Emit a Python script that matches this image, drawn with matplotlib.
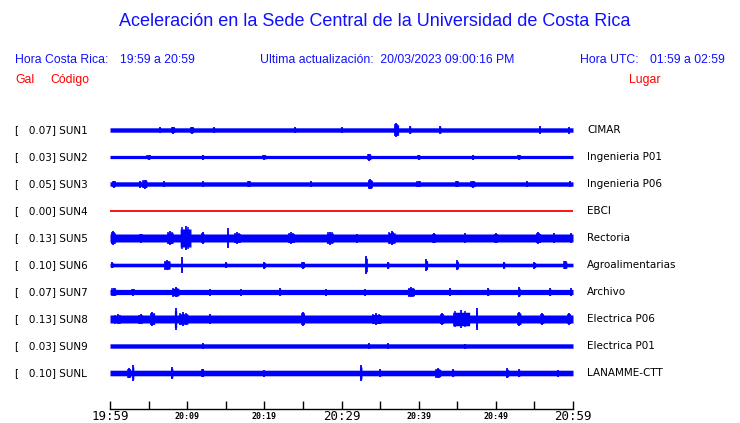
import numpy as np
import matplotlib
matplotlib.use("Agg")
import matplotlib.pyplot as plt

# station codes, peak values (Gal) and places
codes = ["SUN1", "SUN2", "SUN3", "SUN4", "SUN5", "SUN6", "SUN7", "SUN8", "SUN9", "SUNL"]
gal = [0.07, 0.03, 0.05, 0.00, 0.13, 0.10, 0.07, 0.13, 0.03, 0.10]
places = ["CIMAR", "Ingenieria P01", "Ingenieria P06", "EBCI", "Rectoria",
          "Agroalimentarias", "Archivo", "Electrica P06", "Electrica P01", "LANAMME-CTT"]

# background half-amplitude of each trace (px)
base_amp = [2.2, 1.6, 2.2, 0.0, 4.0, 1.8, 2.6, 4.0, 2.2, 2.8]

# bursts: (minute after 19:59, half-amplitude px, duration min)
bursts = [
    [(6.5, 3, 0.3), (8.2, 3.5, 0.4), (10.6, 3.5, 0.5), (13.5, 3, 0.3), (24, 3, 0.3),
     (30, 3, 0.3), (37.1, 7, 0.6), (38.9, 4, 0.2), (42.8, 4, 0.2), (55.7, 4, 0.1),
     (59.5, 3.5, 0.1)],
    [(5, 2.5, 0.5), (12, 2.5, 0.3), (20, 2.5, 0.5), (33.6, 3.5, 0.4), (40, 2.5, 0.4),
     (47, 2.5, 0.3), (53, 2.5, 0.4)],
    [(0.5, 3.5, 0.4), (3.9, 3.5, 0.3), (4.5, 4.5, 0.6), (7, 3, 0.3), (12, 3, 0.3),
     (18, 3, 0.4), (26, 3, 0.2), (33.7, 5, 0.6), (40, 3, 0.5), (45, 3, 0.5),
     (47, 3.5, 0.6), (54, 3, 0.3), (59.6, 3, 0.2)],
    [],
    [(0.4, 7, 0.6), (4, 4.5, 0.4), (7.8, 7, 0.8), (9.8, 12, 1.4), (12, 6, 0.4),
     (15.3, 10, 0.1), (16.5, 6, 0.8), (23.5, 6, 0.8), (28.5, 6.5, 0.9), (32, 4.5, 0.3),
     (36.5, 7, 0.9), (42, 5, 0.4), (46, 5, 0.3), (50, 5, 0.5), (55.5, 6, 0.6),
     (57.5, 5, 0.3), (59.7, 5, 0.3)],
    [(0.3, 3, 0.3), (7.4, 5, 0.8), (9.3, 8, 0.1), (15, 3, 0.3), (20, 3.5, 0.3),
     (25, 3.5, 0.4), (33.2, 9, 0.3), (36, 3.5, 0.3), (41, 6, 0.3), (45, 5, 0.3),
     (51, 3.5, 0.3), (55, 3.5, 0.3), (59, 4, 0.4)],
    [(0.5, 4, 0.6), (3, 3.5, 0.5), (8.5, 5, 0.9), (13, 3.5, 0.3), (17, 3.5, 0.3),
     (22, 4, 0.3), (28, 3.5, 0.3), (33, 3.5, 0.3), (39, 5, 0.9), (44, 4, 0.3),
     (49, 4, 0.3), (53, 5, 0.3), (57, 4, 0.3), (59.7, 4, 0.2)],
    [(1, 5, 1.0), (4, 5, 0.6), (5.5, 7, 0.6), (8.5, 11, 0.3), (9.5, 7, 1.2),
     (13, 5, 0.3), (25, 7, 0.4), (34.5, 6, 1.2), (43, 6, 0.5), (45.5, 9, 2.2),
     (47.5, 11, 0.2), (53, 7, 0.5), (56, 6, 0.4), (59.5, 6, 0.4)],
    [(12, 3, 0.2), (33.5, 3, 0.3), (36, 3, 0.1), (46, 2.5, 0.2)],
    [(2.5, 5, 0.4), (3, 8, 0.2), (8, 6, 0.3), (12, 4, 0.4), (20, 3.5, 0.3),
     (32.5, 8, 0.3), (35, 4, 0.3), (42.5, 5, 0.7), (44.5, 4, 0.3), (51.5, 5, 0.3),
     (53, 4, 0.3), (58, 3.5, 0.3)],
]

tick_minutes = list(range(0, 61, 5))
tick_labels = {0: "19:59", 10: "20:09", 20: "20:19", 30: "20:29",
               40: "20:39", 50: "20:49", 60: "20:59"}

W, H = 740, 423
fig = plt.figure(figsize=(W / 100, H / 100), dpi=100)

def fx(px):
    return px / W

def fy(py):
    return 1 - py / H

blue = "#1010ff"
hdr = dict(family="Liberation Sans", fontsize=8.8, va="center")
fig.text(fx(375), fy(22), "Aceleración en la Sede Central de la Universidad de Costa Rica",
         family="Liberation Sans", fontsize=13, color=blue, ha="center", va="center")
fig.text(fx(15), fy(60), "Hora Costa Rica:", color=blue, **hdr)
fig.text(fx(120), fy(60), "19:59 a 20:59", color=blue, **hdr)
fig.text(fx(260), fy(60), "Ultima actualización:  20/03/2023 09:00:16 PM", color=blue, **hdr)
fig.text(fx(580), fy(60), "Hora UTC:", color=blue, **hdr)
fig.text(fx(650), fy(60), "01:59 a 02:59", color=blue, **hdr)
fig.text(fx(15), fy(80), "Gal", color="red", **hdr)
fig.text(fx(50), fy(80), "Código", color="red", **hdr)
fig.text(fx(629), fy(80), "Lugar", color="red", **hdr)

# trace area: x in minutes, y in pixels from top
ax = fig.add_axes([fx(110), fy(409), fx(573) - fx(110), fy(115) - fy(409)])
ax.set_xlim(0, 60)
ax.set_ylim(409, 115)
for s in ["top", "left", "right"]:
    ax.spines[s].set_visible(False)
ax.spines["bottom"].set_linewidth(1.0)
ax.set_yticks([])

t = np.linspace(0, 60, 2400)
for i, code in enumerate(codes):
    yc = 130 + 27 * i
    if base_amp[i] == 0:
        ax.plot([0, 60], [yc, yc], color="red", lw=1.3)
    else:
        env = np.full_like(t, base_amp[i])
        for t0, a, w in bursts[i]:
            inside = np.abs(t - t0) <= w / 2
            env = np.where(inside, np.maximum(env, 0.75 * a), env)
        ax.fill_between(t, yc - env, yc + env, color="blue", lw=0, step="mid")
        for t0, a, w in bursts[i]:
            ax.vlines(t0, yc - a, yc + a, color="blue", lw=1.3)
            if w >= 0.4:
                ax.vlines([t0 - w / 3, t0 + w / 4], yc - 0.9 * a, yc + 0.9 * a,
                          color="blue", lw=1.1)
    fig.text(fx(15), fy(yc), "[   %.2f] %s" % (gal[i], code), family="DejaVu Sans",
             fontsize=7.5, va="center")
    fig.text(fx(587), fy(yc), places[i], family="DejaVu Sans", fontsize=7.5, va="center")

ax.set_xticks(tick_minutes)
ax.set_xticklabels([])
ax.tick_params(axis="x", direction="in", length=6, width=1, color="black")
for m, lab in tick_labels.items():
    big = m % 30 == 0
    ax.text(m, 416, lab, family="DejaVu Sans Mono", ha="center", va="center",
            fontsize=9 if big else 6, fontweight="normal" if big else "bold",
            clip_on=False)

fig.savefig("out.png", dpi=100)
